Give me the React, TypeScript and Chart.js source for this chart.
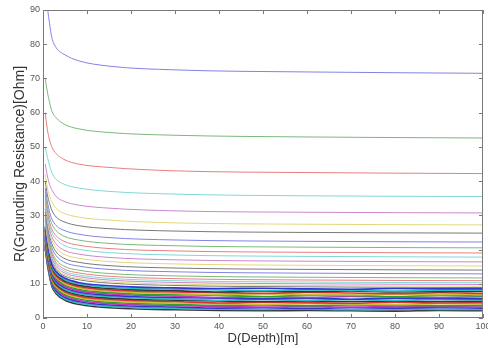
import React, { useEffect, useRef } from "react";
import { Chart, registerables } from "chart.js";

Chart.register(...registerables);

// Depth sample points [m]
const depthMain = [0.5, 1, 1.5, 2, 3, 5, 8, 15, 30, 60, 100];
const depthBand = [0.5, 1, 1.5, 2, 3, 5, 8, 12, 20, 30, 40, 50, 60, 70, 80, 90, 100];

// Upper (well separated) resistance curves [Ohm], sampled at depthMain
const upperCurves: number[][] = [
  [110, 92, 86, 82, 79, 76.9, 75.2, 73.6, 72.5, 71.9, 71.5],
  [70, 66, 63, 60.5, 58.5, 56.5, 55.3, 54.2, 53.4, 52.9, 52.6],
  [60, 55, 52, 50, 48, 46.2, 45, 44, 43, 42.5, 42.2],
  [50, 47, 44.5, 42.5, 40.5, 39, 38, 37, 36.2, 35.7, 35.5],
  [45, 41.5, 39, 37.5, 35.5, 34, 33, 32.1, 31.3, 30.9, 30.7],
  [42, 38, 35.5, 34, 32, 30.5, 29.5, 28.6, 27.8, 27.4, 27.2],
  [40, 36, 33.5, 31.5, 29.5, 28, 27, 26.1, 25.4, 25.0, 24.8],
  [38, 34, 31, 29, 27, 25.5, 24.5, 23.5, 22.8, 22.4, 22.2],
  [37, 32.5, 29.5, 27.5, 25.5, 23.8, 22.8, 21.8, 21.1, 20.7, 20.5],
  [36, 31.5, 28, 26, 24, 22.3, 21.3, 20.3, 19.6, 19.2, 19.0],
  [35, 30.5, 27, 25, 23, 21.1, 20.1, 19.1, 18.4, 18.0, 17.8],
  [34, 29.5, 26, 23.8, 21.6, 19.7, 18.7, 17.7, 17.0, 16.6, 16.4],
  [33, 28.5, 25, 22.8, 20.5, 18.5, 17.5, 16.5, 15.8, 15.4, 15.2],
  [32, 27.5, 24, 21.7, 19.3, 17.3, 16.3, 15.3, 14.6, 14.2, 14.0],
  [31, 26.5, 23, 20.6, 18.2, 16.2, 15.2, 14.2, 13.5, 13.1, 12.9],
  [30, 25.5, 22, 19.5, 17, 15, 14, 13, 12.3, 11.9, 11.7],
  [29.5, 25, 21.3, 18.8, 16.2, 14.2, 13.2, 12.2, 11.5, 11.1, 10.9],
  [29, 24.5, 20.7, 18.2, 15.6, 13.6, 12.6, 11.6, 10.9, 10.5, 10.3],
  [28.5, 24, 20.2, 17.7, 15.1, 13.1, 12.1, 11.1, 10.4, 10.0, 9.8],
  [28, 23.5, 19.7, 17.2, 14.6, 12.6, 11.6, 10.6, 9.9, 9.5, 9.3],
  [27.5, 23, 19.3, 16.8, 14.2, 12.2, 11.2, 10.2, 9.5, 9.1, 8.9],
];

// Dense low band of curves [Ohm], sampled at depthBand
const bandCurves: number[][] = [
  [26.8, 22.0, 18.5, 15.7, 13.5, 11.6, 10.4, 9.7, 9.1, 8.8, 8.6, 8.7, 8.5, 8.4, 8.6, 8.5, 8.5],
  [26.4, 21.6, 18.1, 15.3, 13.1, 11.2, 10.0, 9.3, 8.7, 8.4, 8.2, 8.0, 8.2, 8.1, 7.9, 8.1, 8.1],
  [26.0, 21.2, 17.7, 14.9, 12.7, 10.8, 9.6, 8.9, 8.3, 8.0, 7.6, 7.8, 7.7, 7.9, 7.6, 7.7, 7.8],
  [25.6, 20.8, 17.3, 14.5, 12.3, 10.4, 9.2, 8.5, 7.9, 7.6, 7.4, 7.2, 7.5, 7.3, 7.1, 7.4, 7.2],
  [25.2, 20.4, 16.9, 14.1, 11.9, 10.0, 8.8, 8.1, 7.5, 7.2, 6.8, 7.1, 6.8, 6.7, 7.0, 6.8, 6.9],
  [24.8, 20.0, 16.5, 13.7, 11.5, 9.6, 8.4, 7.7, 7.1, 6.8, 6.6, 6.3, 6.6, 6.6, 6.3, 6.6, 6.4],
  [24.4, 19.6, 16.1, 13.3, 11.1, 9.2, 8.0, 7.3, 6.7, 6.4, 6.0, 6.2, 6.0, 6.3, 6.1, 6.0, 6.2],
  [24.0, 19.2, 15.7, 12.9, 10.7, 8.8, 7.6, 6.9, 6.3, 6.0, 5.8, 5.6, 5.8, 5.5, 5.8, 5.7, 5.6],
  [23.6, 18.8, 15.3, 12.5, 10.3, 8.4, 7.2, 6.5, 5.9, 5.6, 5.2, 5.4, 5.2, 5.4, 5.2, 5.4, 5.3],
  [23.2, 18.4, 14.9, 12.1, 9.9, 8.0, 6.8, 6.1, 5.5, 5.2, 5.0, 4.8, 5.0, 4.8, 5.0, 4.8, 4.9],
  [22.8, 18.0, 14.5, 11.7, 9.5, 7.6, 6.4, 5.7, 5.1, 4.8, 4.4, 4.6, 4.5, 4.3, 4.6, 4.4, 4.5],
  [22.4, 17.6, 14.1, 11.3, 9.1, 7.2, 6.0, 5.3, 4.7, 4.4, 4.2, 4.0, 4.2, 4.1, 3.9, 4.2, 4.1],
  [22.0, 17.2, 13.7, 10.9, 8.7, 6.8, 5.6, 4.9, 4.3, 4.0, 3.7, 3.8, 3.6, 3.8, 3.7, 3.6, 3.7],
  [21.6, 16.8, 13.3, 10.5, 8.3, 6.4, 5.2, 4.5, 3.9, 3.6, 3.4, 3.2, 3.4, 3.2, 3.4, 3.3, 3.2],
  [21.2, 16.4, 12.9, 10.1, 7.9, 6.0, 4.8, 4.1, 3.5, 3.2, 2.9, 3.0, 2.8, 3.0, 2.9, 3.0, 2.9],
  [20.8, 16.0, 12.5, 9.7, 7.5, 5.6, 4.4, 3.7, 3.1, 2.8, 2.6, 2.5, 2.6, 2.4, 2.6, 2.5, 2.5],
  [20.4, 15.6, 12.1, 9.3, 7.1, 5.2, 4.0, 3.3, 2.7, 2.4, 2.2, 2.1, 2.2, 2.1, 2.0, 2.2, 2.1],
];

const xTicks = [0, 10, 20, 30, 40, 50, 60, 70, 80, 90, 100];
const yTicks = [0, 10, 20, 30, 40, 50, 60, 70, 80, 90];

const paleColors = ["#8282e6", "#7cb87c", "#ea7e7e", "#7ed8d8", "#cc86cc", "#e2d87a", "#787878"];
const bandColors = ["#3434d0", "#2f9f2f", "#e03434", "#2fbcbc", "#c034c0", "#c8c034", "#383838"];

const frameAndTicks = {
  id: "frameAndTicks",
  afterDatasetsDraw(chart: any) {
    const { ctx, chartArea: a, scales } = chart;
    const xs = scales.x;
    const ys = scales.y;
    ctx.save();
    ctx.strokeStyle = "#7a7a7a";
    ctx.lineWidth = 1;
    ctx.strokeRect(a.left + 0.5, a.top + 0.5, a.right - a.left - 1, a.bottom - a.top - 1);
    const len = 4;
    ctx.beginPath();
    xTicks.forEach((v) => {
      const px = Math.round(xs.getPixelForValue(v)) + 0.5;
      ctx.moveTo(px, a.bottom);
      ctx.lineTo(px, a.bottom - len);
      ctx.moveTo(px, a.top);
      ctx.lineTo(px, a.top + len);
    });
    yTicks.forEach((v) => {
      const py = Math.round(ys.getPixelForValue(v)) + 0.5;
      ctx.moveTo(a.left, py);
      ctx.lineTo(a.left + len, py);
      ctx.moveTo(a.right, py);
      ctx.lineTo(a.right - len, py);
    });
    ctx.stroke();
    ctx.restore();
  },
};

export default function App() {
  const canvasRef = useRef<HTMLCanvasElement | null>(null);

  useEffect(() => {
    document.body.style.margin = "0";
    const datasets: any[] = [];
    upperCurves.forEach((vals, i) => {
      datasets.push({
        data: vals.map((r, j) => ({ x: depthMain[j], y: r })),
        borderColor: paleColors[i % 7],
        borderWidth: 1,
        pointRadius: 0,
        cubicInterpolationMode: "monotone",
      });
    });
    bandCurves.forEach((vals, i) => {
      datasets.push({
        data: vals.map((r, j) => ({ x: depthBand[j], y: r })),
        borderColor: bandColors[(i * 3) % 7],
        borderWidth: 1.6,
        pointRadius: 0,
        cubicInterpolationMode: "monotone",
      });
    });

    const chart = new Chart(canvasRef.current as HTMLCanvasElement, {
      type: "line",
      data: { datasets },
      plugins: [frameAndTicks],
      options: {
        animation: false,
        responsive: false,
        maintainAspectRatio: false,
        layout: { padding: { left: 0, right: 5, top: 10, bottom: 0 } },
        plugins: { legend: { display: false }, tooltip: { enabled: false } },
        scales: {
          x: {
            type: "linear",
            min: 0,
            max: 100,
            grid: { display: false, drawTicks: false },
            border: { display: false },
            afterFit: (s: any) => { s.height = 30; s.paddingLeft = 0; s.paddingRight = 0; },
            afterBuildTicks: (s: any) => { s.ticks = xTicks.map((v) => ({ value: v })); },
            ticks: { color: "#555", font: { size: 9, family: "Liberation Sans, Arial" }, padding: 3, maxRotation: 0 },
            title: {
              display: true,
              text: "D(Depth)[m]",
              color: "#333",
              font: { size: 13, family: "Liberation Sans, Arial" },
              padding: { top: 0, bottom: 2 },
            },
          },
          y: {
            type: "linear",
            min: 0,
            max: 90,
            grid: { display: false, drawTicks: false },
            border: { display: false },
            afterFit: (s: any) => { s.width = 43; s.paddingTop = 0; s.paddingBottom = 0; },
            afterBuildTicks: (s: any) => { s.ticks = yTicks.map((v) => ({ value: v })); },
            ticks: { color: "#555", font: { size: 9, family: "Liberation Sans, Arial" }, padding: 3 },
            title: {
              display: true,
              text: "R(Grounding Resistance)[Ohm]",
              color: "#333",
              font: { size: 14, family: "Liberation Sans, Arial" },
              padding: { top: 12, bottom: 0 },
            },
          },
        },
      },
    });
    return () => chart.destroy();
  }, []);

  return (
    <div style={{ position: "absolute", left: 0, top: 0, width: 488, height: 348, background: "#fff" }}>
      <canvas ref={canvasRef} width={488} height={348} style={{ width: 488, height: 348 }} />
    </div>
  );
}
